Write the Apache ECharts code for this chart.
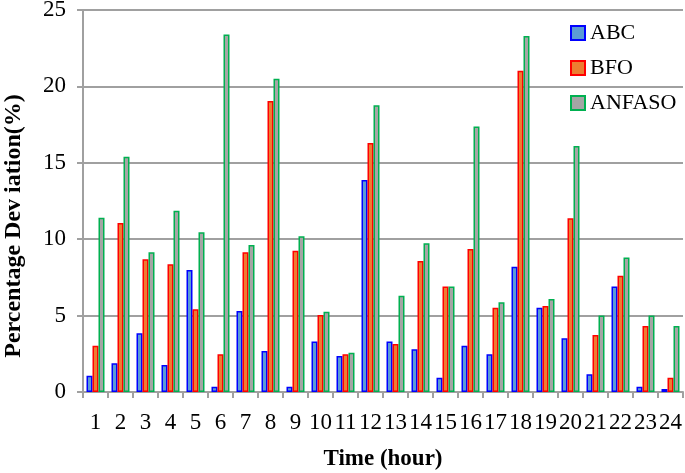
<!DOCTYPE html>
<html>
<head>
<meta charset="utf-8">
<script src="https://cdn.jsdelivr.net/npm/echarts@6/dist/echarts.min.js"></script>
<style>
html, body { margin: 0; padding: 0; background: #fff; }
#main { width: 685px; height: 473px; }
</style>
</head>
<body>
<div id="main"></div>
<script>
var hours = ['1','2','3','4','5','6','7','8','9','10','11','12','13','14','15','16','17','18','19','20','21','22','23','24'];
var abc = [1.07, 1.88, 3.84, 1.77, 7.98, 0.35, 5.3, 2.68, 0.35, 3.3, 2.36, 13.87, 3.3, 2.8, 0.94, 3.03, 2.47, 8.2, 5.52, 3.51, 1.16, 6.9, 0.35, 0.2];
var bfo = [3.03, 11.06, 8.68, 8.36, 5.41, 2.47, 9.14, 19.04, 9.25, 5.04, 2.47, 16.3, 3.14, 8.57, 6.9, 9.36, 5.52, 21.03, 5.63, 11.37, 3.73, 7.6, 4.32, 0.94];
var anfaso = [11.4, 15.4, 9.14, 11.87, 10.45, 23.4, 9.62, 20.5, 10.2, 5.26, 2.57, 18.76, 6.3, 9.73, 6.9, 17.37, 5.87, 23.3, 6.09, 16.1, 5.0, 8.8, 5.0, 4.32];

var serif = '"Liberation Serif", "DejaVu Serif", serif';

function bar(name, data, fill, border) {
	return {
		name: name,
		type: 'bar',
		data: data,
		barWidth: 6,
		barGap: '0%',
		itemStyle: {
			color: fill,
			borderColor: border,
			borderWidth: 1.5
		}
	};
}

var myChart = echarts.init(document.getElementById('main'));

myChart.setOption({
	animation: false,
	grid: {
		left: 83,
		right: 2,
		top: 10,
		bottom: 81,
		outerBoundsMode: 'none'
	},

	legend: {
		orient: 'vertical',
		left: 565,
		top: 17,
		itemGap: 13,
		itemWidth: 14,
		itemHeight: 14,
		icon: 'rect',
		textStyle: {
			fontFamily: serif,
			fontSize: 22,
			color: '#000'
		},
		data: ['ABC', 'BFO', 'ANFASO']
	},

	xAxis: {
		type: 'category',
		data: hours,
		name: 'Time (hour)',
		nameLocation: 'middle',
		nameGap: 56,
		nameTextStyle: {
			fontFamily: serif,
			fontSize: 23,
			fontWeight: 'bold',
			color: '#000'
		},
		axisLine: { lineStyle: { color: '#a0a0a0', width: 2 } },
		axisTick: { show: true, length: 6, lineStyle: { color: '#a0a0a0', width: 2 } },
		axisLabel: {
			interval: 0,
			margin: 19,
			fontFamily: serif,
			fontSize: 23,
			color: '#000'
		}
	},

	yAxis: {
		type: 'value',
		min: 0,
		max: 25,
		interval: 5,
		name: 'Percentage Dev iation(%)',
		nameLocation: 'middle',
		nameGap: 57,
		nameTextStyle: {
			fontFamily: serif,
			fontSize: 24,
			fontWeight: 'bold',
			color: '#000',
			padding: [0, 50, 0, 0]
		},
		axisLine: { show: true, lineStyle: { color: '#a0a0a0', width: 2 } },
		axisTick: { show: true, length: 6, lineStyle: { color: '#a0a0a0', width: 2 } },
		axisLabel: {
			margin: 17,
			fontFamily: serif,
			fontSize: 23,
			color: '#000'
		},
		splitLine: { lineStyle: { color: '#a0a0a0', width: 2 } }
	},

	series: [
		bar('ABC', abc, '#5b9bd5', '#0000ff'),
		bar('BFO', bfo, '#ed7d31', '#ff0000'),
		bar('ANFASO', anfaso, '#a5a5a5', '#00b050')
	]
});
</script>
</body>
</html>
